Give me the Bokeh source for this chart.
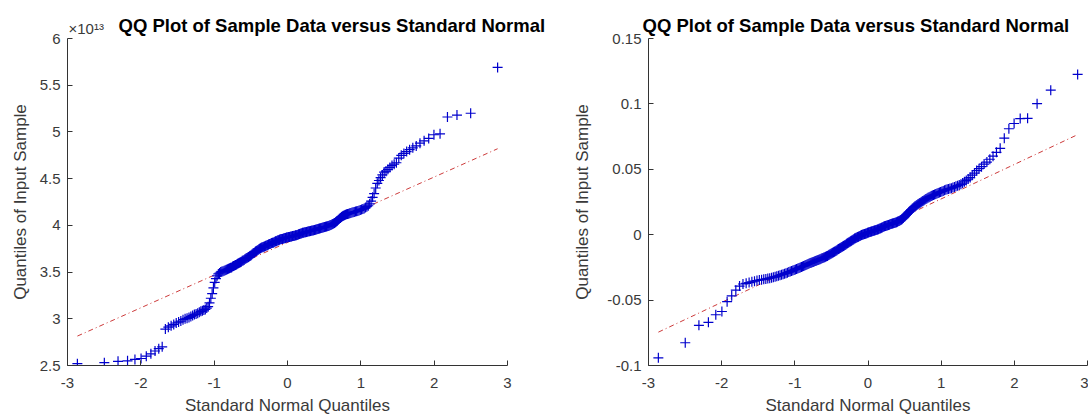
from statistics import NormalDist

from bokeh.plotting import figure
from bokeh.layouts import row
from bokeh.models import FixedTicker, Range1d, Title
from bokeh.embed import file_html
from bokeh.resources import INLINE

# ---------------- data ----------------
title_text = "QQ Plot of Sample Data versus Standard Normal"
x_label = "Standard Normal Quantiles"
y_label = "Quantiles of Input Sample"

x_ticks = [-3, -2, -1, 0, 1, 2, 3]
x_tick_labels = ["-3", "-2", "-1", "0", "1", "2", "3"]

left_y_ticks = [2.5, 3.0, 3.5, 4.0, 4.5, 5.0, 5.5, 6.0]
left_y_tick_labels = ["2.5", "3", "3.5", "4", "4.5", "5", "5.5", "6"]
left_exponent_text = "\u00d710\u00b9\u00b3"   # x10^13

right_y_ticks = [-0.1, -0.05, 0.0, 0.05, 0.1, 0.15]
right_y_tick_labels = ["-0.1", "-0.05", "0", "0.05", "0.1", "0.15"]

# sorted sample values, left panel (units of 1e13)
left_sample = [
    2.52, 2.53, 2.545, 2.55, 2.565, 2.575, 2.60, 2.625, 2.655, 2.68,
    2.70, 2.89, 2.91, 2.925, 2.94, 2.955, 2.965, 2.975, 2.99, 3.00,
    3.005, 3.015, 3.025, 3.035, 3.045, 3.05, 3.06, 3.07, 3.08, 3.085,
    3.095, 3.10, 3.115, 3.13, 3.17, 3.22, 3.27, 3.33, 3.39, 3.43,
    3.46, 3.48, 3.49, 3.50, 3.505, 3.51, 3.515, 3.52, 3.525, 3.53,
    3.535, 3.54, 3.545, 3.55, 3.56, 3.565, 3.57, 3.575, 3.58, 3.59,
    3.595, 3.60, 3.605, 3.61, 3.62, 3.625, 3.63, 3.64, 3.645, 3.65,
    3.655, 3.66, 3.67, 3.675, 3.68, 3.69, 3.70, 3.705, 3.71, 3.72,
    3.725, 3.73, 3.735, 3.745, 3.75, 3.755, 3.76, 3.765, 3.765, 3.77,
    3.775, 3.78, 3.785, 3.785, 3.79, 3.795, 3.80, 3.80, 3.805, 3.81,
    3.815, 3.815, 3.82, 3.825, 3.83, 3.83, 3.835, 3.84, 3.84, 3.845,
    3.85, 3.85, 3.855, 3.855, 3.86, 3.86, 3.865, 3.865, 3.87, 3.87,
    3.872, 3.875, 3.875, 3.878, 3.88, 3.882, 3.885, 3.887, 3.888, 3.89,
    3.893, 3.895, 3.898, 3.90, 3.905, 3.907, 3.91, 3.913, 3.915, 3.92,
    3.921, 3.923, 3.925, 3.927, 3.93, 3.932, 3.934, 3.936, 3.938, 3.94,
    3.942, 3.944, 3.946, 3.948, 3.95, 3.953, 3.956, 3.959, 3.962, 3.965,
    3.967, 3.97, 3.972, 3.975, 3.978, 3.98, 3.982, 3.985, 3.987, 3.99,
    3.993, 3.996, 4.0, 4.005, 4.01, 4.015, 4.02, 4.025, 4.032, 4.04,
    4.05, 4.06, 4.07, 4.08, 4.09, 4.097, 4.103, 4.108, 4.113, 4.118,
    4.122, 4.125, 4.13, 4.133, 4.137, 4.14, 4.143, 4.147, 4.151, 4.155,
    4.16, 4.165, 4.17, 4.175, 4.18, 4.19, 4.20, 4.21, 4.23, 4.26,
    4.30, 4.34, 4.40, 4.45, 4.48, 4.51, 4.54, 4.57, 4.58, 4.60,
    4.62, 4.64, 4.655, 4.67, 4.72, 4.75, 4.77, 4.79, 4.81, 4.83,
    4.85, 4.88, 4.905, 4.93, 4.97, 4.98, 5.16, 5.18, 5.20, 5.69,
]

# sorted sample values, right panel
right_sample = [
    -0.0941, -0.0826, -0.0693, -0.067, -0.0612, -0.0587, -0.0512, -0.0467, -0.0424, -0.0393,
    -0.0377, -0.0372, -0.0366, -0.036, -0.0355, -0.035, -0.0347, -0.0344, -0.0341, -0.0338,
    -0.0335, -0.0332, -0.0329, -0.0325, -0.0322, -0.0318, -0.0314, -0.031, -0.0306, -0.0302,
    -0.0298, -0.0294, -0.029, -0.0286, -0.0282, -0.0278, -0.0274, -0.027, -0.0266, -0.0262,
    -0.0258, -0.0254, -0.025, -0.0246, -0.0243, -0.024, -0.0236, -0.0232, -0.0228, -0.0224,
    -0.022, -0.0217, -0.0214, -0.0211, -0.0208, -0.0205, -0.0202, -0.0199, -0.0196, -0.0193,
    -0.019, -0.0187, -0.0184, -0.0181, -0.0178, -0.0175, -0.0172, -0.0169, -0.0165, -0.0162,
    -0.0158, -0.0154, -0.015, -0.0146, -0.0142, -0.0138, -0.0134, -0.013, -0.0126, -0.0122,
    -0.0118, -0.0114, -0.011, -0.0106, -0.0102, -0.0098, -0.0094, -0.009, -0.0086, -0.0082,
    -0.0078, -0.0074, -0.007, -0.0066, -0.0062, -0.0058, -0.0054, -0.005, -0.0046, -0.0042,
    -0.0038, -0.0034, -0.003, -0.0027, -0.0024, -0.0021, -0.0018, -0.0015, -0.0012, -0.0009,
    -0.0006, -0.0003, 0.0, 0.0002, 0.0004, 0.0006, 0.0008, 0.001, 0.0012, 0.0014,
    0.0016, 0.0018, 0.002, 0.0022, 0.0024, 0.0026, 0.0028, 0.003, 0.0032, 0.0034,
    0.0036, 0.0038, 0.004, 0.0042, 0.0045, 0.0048, 0.005, 0.0053, 0.0056, 0.0059,
    0.0062, 0.0064, 0.0067, 0.0069, 0.0071, 0.0073, 0.0075, 0.0077, 0.0079, 0.0081,
    0.0083, 0.0085, 0.0087, 0.0089, 0.0091, 0.0093, 0.0096, 0.0099, 0.0102, 0.0105,
    0.0108, 0.0112, 0.0117, 0.0122, 0.0128, 0.0135, 0.0142, 0.0149, 0.0156, 0.0163,
    0.017, 0.0177, 0.0184, 0.0191, 0.0198, 0.0205, 0.0211, 0.0217, 0.0222, 0.0227,
    0.0232, 0.0237, 0.0242, 0.0247, 0.0252, 0.0257, 0.0262, 0.0267, 0.0272, 0.0277,
    0.0282, 0.0287, 0.0291, 0.0295, 0.0299, 0.0303, 0.0307, 0.0311, 0.0315, 0.0319,
    0.0323, 0.0327, 0.0331, 0.0335, 0.0339, 0.0343, 0.0347, 0.035, 0.0353, 0.0356,
    0.036, 0.0365, 0.037, 0.0375, 0.038, 0.0385, 0.0395, 0.0405, 0.0415, 0.0425,
    0.0437, 0.0455, 0.047, 0.049, 0.0505, 0.052, 0.054, 0.0555, 0.0577, 0.060,
    0.063, 0.066, 0.0738, 0.081, 0.085, 0.0888, 0.089, 0.1002, 0.1105, 0.1225,
]

# reference lines (end points)
left_ref_x = [-2.865, 2.865]
left_ref_y = [2.815, 4.82]
right_ref_x = [-2.865, 2.865]
right_ref_y = [-0.0745, 0.0765]

# ---------------- styling ----------------
FONT = "Liberation Sans"
AXIS_COLOR = "#333333"
TEXT_COLOR = "#3a3a3a"
MARK_COLOR = "#0000cc"
REF_COLOR = "#cc3a3a"
TITLE_SIZE = "18.5px"

nd = NormalDist()


def theoretical_quantiles(n):
    # plotting positions used by a normal QQ plot: (i - 0.5) / n
    return [nd.inv_cdf((i - 0.5) / n) for i in range(1, n + 1)]


def make_panel(width, y_range, y_ticks, y_tick_labels, sample, ref_x, ref_y,
               border_left, border_right, y_label_standoff):
    p = figure(width=width, height=417, title=None,
               x_range=Range1d(-3, 3), y_range=Range1d(*y_range),
               output_backend="svg", toolbar_location=None,
               min_border_left=border_left, min_border_right=border_right,
               min_border_top=38, min_border_bottom=49)
    p.outline_line_color = None
    p.grid.visible = False
    p.background_fill_color = "white"
    p.border_fill_color = "white"

    for ax in (p.xaxis[0], p.yaxis[0]):
        ax.axis_line_color = AXIS_COLOR
        ax.major_tick_line_color = AXIS_COLOR
        ax.major_tick_in = 5
        ax.major_tick_out = 0
        ax.minor_tick_line_color = None
        ax.major_label_text_font = FONT
        ax.major_label_text_font_size = "15px"
        ax.major_label_text_color = TEXT_COLOR
        ax.axis_label_text_font = FONT
        ax.axis_label_text_font_size = "17px"
        ax.axis_label_text_font_style = "normal"
        ax.axis_label_text_color = TEXT_COLOR

    p.xaxis.ticker = FixedTicker(ticks=x_ticks)
    p.xaxis.major_label_overrides = dict(zip(x_ticks, x_tick_labels))
    p.xaxis.axis_label = x_label
    p.xaxis.major_label_standoff = 12
    p.xaxis.axis_label_standoff = 5

    p.yaxis.ticker = FixedTicker(ticks=y_ticks)
    p.yaxis.major_label_overrides = dict(zip(y_ticks, y_tick_labels))
    p.yaxis.axis_label = y_label
    p.yaxis.major_label_standoff = 7
    p.yaxis.axis_label_standoff = y_label_standoff

    qx = theoretical_quantiles(len(sample))
    p.line(ref_x, ref_y, line_color=REF_COLOR, line_width=1, line_dash="5 3 1 3")
    p.scatter(qx, sample, marker="cross", size=10, line_color=MARK_COLOR, line_width=1.2)
    return p


def main_title(offset, standoff):
    return Title(text=title_text, align="left", offset=offset, standoff=standoff,
                 text_font=FONT, text_font_size=TITLE_SIZE, text_font_style="bold",
                 text_color="black")


# ---- left panel
left_fig = make_panel(570, (2.5, 6.0), left_y_ticks, left_y_tick_labels, left_sample,
                      left_ref_x, left_ref_y, 67, 63, 7)
# inner title row: the axis exponent; outer row: the main title pulled down beside it
left_fig.add_layout(Title(text=left_exponent_text, align="left", offset=1, standoff=4,
                          text_font=FONT, text_font_size="15px",
                          text_font_style="normal", text_color=TEXT_COLOR), "above")
left_fig.add_layout(main_title(51, -41), "above")

# ---- right panel
right_fig = make_panel(518, (-0.1, 0.15), right_y_ticks, right_y_tick_labels, right_sample,
                       right_ref_x, right_ref_y, 77, 1, 12)
right_fig.add_layout(main_title(-6, 5), "above")

layout = row(left_fig, right_fig)

with open("out.html", "w") as f:
    f.write(file_html(layout, INLINE))
